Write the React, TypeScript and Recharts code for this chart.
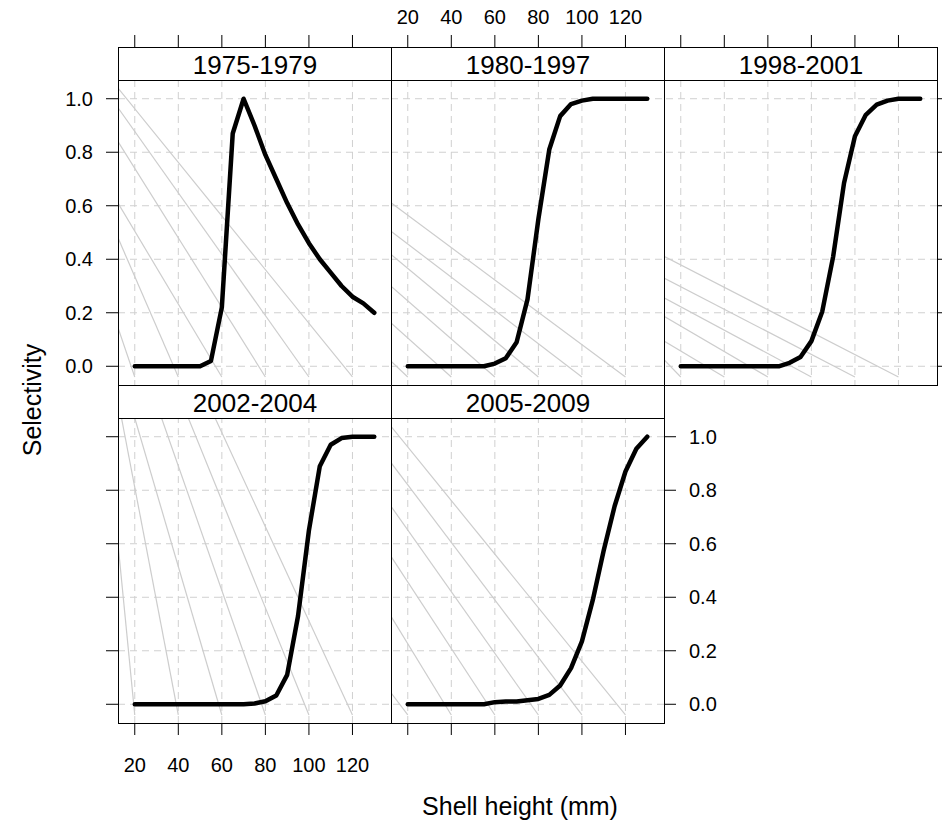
import React from 'react';
import { LineChart, Line, XAxis, YAxis, ReferenceLine } from 'recharts';

// shell heights (mm) where selectivity was evaluated
const shellHeight = [20, 25, 30, 35, 40, 45, 50, 55, 60, 65, 70, 75, 80, 85, 90, 95, 100, 105, 110, 115, 120, 125, 130];

const sel1975 = [0, 0, 0, 0, 0, 0, 0, 0.02, 0.22, 0.87, 1.0, 0.9, 0.79, 0.7, 0.61, 0.53, 0.46, 0.4, 0.35, 0.3, 0.26, 0.235, 0.2];
const sel1980 = [0, 0, 0, 0, 0, 0, 0, 0, 0.01, 0.03, 0.09, 0.25, 0.55, 0.81, 0.935, 0.98, 0.993, 1, 1, 1, 1, 1, 1];
const sel1998 = [0, 0, 0, 0, 0, 0, 0, 0, 0, 0, 0.013, 0.035, 0.094, 0.205, 0.41, 0.685, 0.86, 0.94, 0.978, 0.993, 1, 1, 1];
const sel2002 = [0, 0, 0, 0, 0, 0, 0, 0, 0, 0, 0, 0.003, 0.011, 0.033, 0.11, 0.33, 0.65, 0.89, 0.97, 0.995, 1, 1, 1];
const sel2005 = [0, 0, 0, 0, 0, 0, 0, 0, 0.008, 0.01, 0.01, 0.015, 0.02, 0.035, 0.07, 0.135, 0.235, 0.39, 0.575, 0.74, 0.87, 0.955, 1];

const panelTitles = ['1975-1979', '1980-1997', '1998-2001', '2002-2004', '2005-2009'];

const xTicks = [20, 40, 60, 80, 100, 120];
const yTicks = [0, 0.2, 0.4, 0.6, 0.8, 1.0];
const xDomain = [12.3, 137.7];
const yDomain = [-0.07, 1.07];

// light grey background lines: each runs from a start point to (guideEndX, guideEndY)
const guideEndX = [20, 40, 60, 80, 100, 120];
const guideEndY = -0.04;
const guideStartX1975 = [12.3, 12.3, 12.3, 12.3, 12.3, 12.3];
const guideStartY1975 = [0.144, 0.48, 0.61, 0.84, 0.966, 1.04];
const guideStartX1980 = [12.3, 12.3, 12.3, 12.3, 12.3, 12.3];
const guideStartY1980 = [0.019, 0.162, 0.299, 0.418, 0.505, 0.611];
const guideStartX1998 = [12.3, 12.3, 12.3, 12.3, 12.3, 12.3];
const guideStartY1998 = [0.025, 0.094, 0.187, 0.256, 0.33, 0.411];
const guideStartX2002 = [12.3, 13.9, 20, 32.3, 44.6, 56.9];
const guideStartY2002 = [0.6, 1.07, 1.07, 1.07, 1.07, 1.07];
const guideStartX2005 = [12.3, 12.3, 12.3, 12.3, 12.3, 12.3];
const guideStartY2005 = [0.043, 0.329, 0.553, 0.74, 0.903, 1.039];

const FONT = '"Liberation Sans", Arial, Helvetica, sans-serif';
const M = 80;
const AX = 40; // room given to each visible axis inside the margin
const PW = 273;
const PH = 305;
const STRIP = 33;
const colLeft = [118, 391, 664];
const rowTop = [47, 385];

const panels = [
  { title: panelTitles[0], values: sel1975, gx: guideStartX1975, gy: guideStartY1975, col: 0, row: 0 },
  { title: panelTitles[1], values: sel1980, gx: guideStartX1980, gy: guideStartY1980, col: 1, row: 0 },
  { title: panelTitles[2], values: sel1998, gx: guideStartX1998, gy: guideStartY1998, col: 2, row: 0 },
  { title: panelTitles[3], values: sel2002, gx: guideStartX2002, gy: guideStartY2002, col: 0, row: 1 },
  { title: panelTitles[4], values: sel2005, gx: guideStartX2005, gy: guideStartY2005, col: 1, row: 1 },
];

const Empty = () => <g />;

const TopTick = (props: any) => {
  const { x, y, payload, showLabel } = props;
  const base = y - STRIP;
  return (
    <g>
      <line x1={x} x2={x} y1={base} y2={base - 12} stroke="#000" strokeWidth={1} />
      {showLabel && (
        <text x={x} y={base - 23} textAnchor="middle" fontSize={20} fontFamily={FONT} fill="#000">
          {payload.value}
        </text>
      )}
    </g>
  );
};

function Panel({ p }: { p: any }) {
  const left = colLeft[p.col];
  const top = rowTop[p.row] + STRIP;
  const data = shellHeight.map((x, i) => ({ x, y: p.values[i] }));
  const tickStyle = { fill: '#000', fontSize: 20, fontFamily: FONT };

  const yOrient = p.col === 0 ? 'left' : p.col === 2 || p.row === 1 ? 'right' : null;
  const yLabels = (p.col === 0 && p.row === 0) || (p.col === 1 && p.row === 1);

  const margin = {
    top: p.row === 0 ? M - AX : M,
    bottom: p.row === 1 ? M - AX : M,
    left: yOrient === 'left' ? M - AX : M,
    right: yOrient === 'right' ? M - AX : M,
  };

  return (
    <>
      <div
        style={{
          position: 'absolute', left, top: rowTop[p.row], width: PW + 1, height: STRIP + 1,
          border: '1px solid #000', boxSizing: 'border-box', display: 'flex',
          alignItems: 'center', justifyContent: 'center', fontSize: 26, fontFamily: FONT,
          paddingTop: 2,
        }}
      >
        {p.title}
      </div>
      <div style={{ position: 'absolute', left: left - M, top: top - M }}>
        <LineChart width={PW + 2 * M} height={PH + 2 * M} data={data} margin={margin}>
          {p.row === 0 ? (
            <XAxis
              type="number" dataKey="x" domain={xDomain} ticks={xTicks} allowDataOverflow interval={0}
              orientation="top" height={AX} axisLine={false} tickLine={false} tickSize={0} tickMargin={0}
              tick={(tp: any) => <TopTick {...tp} showLabel={p.col === 1} />}
            />
          ) : (
            <XAxis
              type="number" dataKey="x" domain={xDomain} ticks={xTicks} allowDataOverflow interval={0}
              orientation="bottom" height={AX} axisLine={false}
              tickLine={{ stroke: '#000' }} tickSize={12} tickMargin={23}
              tick={p.col === 0 ? tickStyle : Empty}
            />
          )}
          <YAxis
            type="number" domain={yDomain} ticks={yTicks} allowDataOverflow interval={0}
            hide={yOrient === null} orientation={yOrient === 'right' ? 'right' : 'left'} width={AX}
            axisLine={false} tickLine={{ stroke: '#000' }} tickSize={12} tickMargin={13}
            tickFormatter={(v: number) => v.toFixed(1)}
            tick={yLabels ? tickStyle : Empty}
          />
          {xTicks.map((v) => (
            <ReferenceLine key={`gx${v}`} x={v} stroke="#d0d0d0" strokeWidth={1} strokeDasharray="7 5" />
          ))}
          {yTicks.map((v) => (
            <ReferenceLine key={`gy${v}`} y={v} stroke="#d0d0d0" strokeWidth={1} strokeDasharray="7 5" />
          ))}
          {guideEndX.map((ex, i) => (
            <Line
              key={`guide${i}`}
              data={[{ x: p.gx[i], y: p.gy[i] }, { x: ex, y: guideEndY }]}
              dataKey="y" type="linear" stroke="#cdcdcd" strokeWidth={1.2} dot={false}
              activeDot={false} isAnimationActive={false}
            />
          ))}
          <Line
            dataKey="y" type="linear" stroke="#000" strokeWidth={4.5} dot={false} activeDot={false}
            strokeLinejoin="round" strokeLinecap="round" isAnimationActive={false}
          />
        </LineChart>
      </div>
      <div
        style={{
          position: 'absolute', left, top, width: PW + 1, height: PH + 1,
          border: '1px solid #000', boxSizing: 'border-box', pointerEvents: 'none',
        }}
      />
    </>
  );
}

export default function App() {
  return (
    <div style={{ position: 'absolute', left: 0, top: 0, width: 942, height: 821, background: '#fff', fontFamily: FONT, overflow: 'hidden' }}>
      {panels.map((p, i) => (
        <Panel key={i} p={p} />
      ))}
      <div style={{ position: 'absolute', left: 520, top: 806, transform: 'translate(-50%, -50%)', fontSize: 25, whiteSpace: 'nowrap' }}>
        Shell height (mm)
      </div>
      <div style={{ position: 'absolute', left: 32, top: 400, transform: 'translate(-50%, -50%) rotate(-90deg)', fontSize: 25, whiteSpace: 'nowrap' }}>
        Selectivity
      </div>
    </div>
  );
}
